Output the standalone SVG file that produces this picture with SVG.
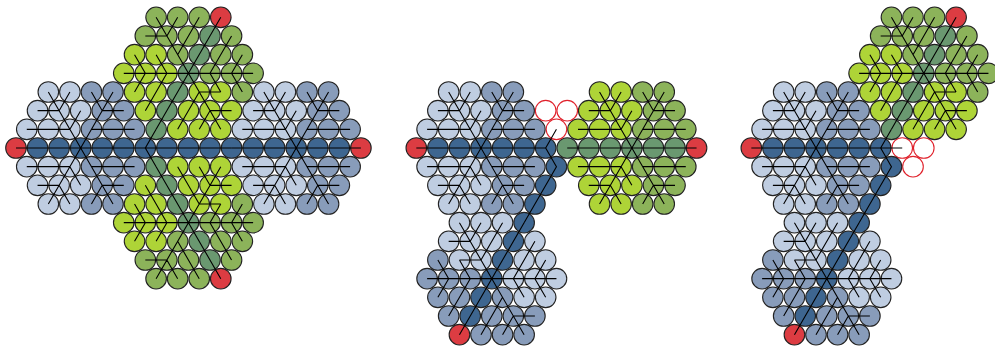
<svg xmlns="http://www.w3.org/2000/svg" width="995" height="350" viewBox="0 0 995 350">
<style>
circle{r:10.3px;stroke:#222;stroke-width:1.1}
.a{fill:var(--a)}.b{fill:var(--b)}.c{fill:var(--c)}
.r{fill:#dc3c42}
.h{fill:#fff;stroke:#e0222c}
.blue{--a:#bfcde1;--b:#889cba;--c:#3e6690}
.lime{--a:#aed437;--b:#8cb35a;--c:#6a9870}
#connectors{fill:none;stroke:#000;stroke-width:1.1}
</style>
<defs>
<g id="S">
<circle class="a" cx="-32.33" cy="-56" r="10.3"/><circle class="a" cx="-10.78" cy="-56" r="10.3"/><circle class="b" cx="10.78" cy="-56" r="10.3"/><circle class="b" cx="32.33" cy="-56" r="10.3"/>
<circle class="a" cx="-43.11" cy="-37.33" r="10.3"/><circle class="a" cx="-21.56" cy="-37.33" r="10.3"/><circle class="a" cx="0" cy="-37.33" r="10.3"/><circle class="b" cx="21.56" cy="-37.33" r="10.3"/><circle class="b" cx="43.11" cy="-37.33" r="10.3"/>
<circle class="a" cx="-53.89" cy="-18.67" r="10.3"/><circle class="a" cx="-32.33" cy="-18.67" r="10.3"/><circle class="a" cx="-10.78" cy="-18.67" r="10.3"/><circle class="b" cx="10.78" cy="-18.67" r="10.3"/><circle class="b" cx="32.33" cy="-18.67" r="10.3"/><circle class="b" cx="53.89" cy="-18.67" r="10.3"/>
<circle class="c" cx="-43.11" cy="0" r="10.3"/><circle class="c" cx="-21.56" cy="0" r="10.3"/><circle class="c" cx="0" cy="0" r="10.3"/><circle class="c" cx="21.56" cy="0" r="10.3"/><circle class="c" cx="43.11" cy="0" r="10.3"/>
<circle class="a" cx="-53.89" cy="18.67" r="10.3"/><circle class="a" cx="-32.33" cy="18.67" r="10.3"/><circle class="a" cx="-10.78" cy="18.67" r="10.3"/><circle class="b" cx="10.78" cy="18.67" r="10.3"/><circle class="b" cx="32.33" cy="18.67" r="10.3"/><circle class="b" cx="53.89" cy="18.67" r="10.3"/>
<circle class="a" cx="-43.11" cy="37.33" r="10.3"/><circle class="a" cx="-21.56" cy="37.33" r="10.3"/><circle class="a" cx="0" cy="37.33" r="10.3"/><circle class="b" cx="21.56" cy="37.33" r="10.3"/><circle class="b" cx="43.11" cy="37.33" r="10.3"/>
<circle class="a" cx="-32.33" cy="56" r="10.3"/><circle class="a" cx="-10.78" cy="56" r="10.3"/><circle class="b" cx="10.78" cy="56" r="10.3"/><circle class="b" cx="32.33" cy="56" r="10.3"/>
</g>
<g id="T">
<circle class="b" cx="-32.33" cy="-56" r="10.3"/><circle class="b" cx="-10.78" cy="-56" r="10.3"/><circle class="b" cx="10.78" cy="-56" r="10.3"/><circle class="r" cx="32.33" cy="-56" r="10.3"/>
<circle class="b" cx="-43.11" cy="-37.33" r="10.3"/><circle class="b" cx="-21.56" cy="-37.33" r="10.3"/><circle class="b" cx="0" cy="-37.33" r="10.3"/><circle class="c" cx="21.56" cy="-37.33" r="10.3"/><circle class="b" cx="43.11" cy="-37.33" r="10.3"/>
<circle class="a" cx="-53.89" cy="-18.67" r="10.3"/><circle class="a" cx="-32.33" cy="-18.67" r="10.3"/><circle class="b" cx="-10.78" cy="-18.67" r="10.3"/><circle class="c" cx="10.78" cy="-18.67" r="10.3"/><circle class="b" cx="32.33" cy="-18.67" r="10.3"/><circle class="b" cx="53.89" cy="-18.67" r="10.3"/>
<circle class="a" cx="-64.67" cy="0" r="10.3"/><circle class="a" cx="-43.11" cy="0" r="10.3"/><circle class="a" cx="-21.56" cy="0" r="10.3"/><circle class="c" cx="0" cy="0" r="10.3"/><circle class="b" cx="21.56" cy="0" r="10.3"/><circle class="b" cx="43.11" cy="0" r="10.3"/><circle class="b" cx="64.67" cy="0" r="10.3"/>
<circle class="a" cx="-53.89" cy="18.67" r="10.3"/><circle class="a" cx="-32.33" cy="18.67" r="10.3"/><circle class="c" cx="-10.78" cy="18.67" r="10.3"/><circle class="a" cx="10.78" cy="18.67" r="10.3"/><circle class="a" cx="32.33" cy="18.67" r="10.3"/><circle class="b" cx="53.89" cy="18.67" r="10.3"/>
<circle class="a" cx="-43.11" cy="37.33" r="10.3"/><circle class="c" cx="-21.56" cy="37.33" r="10.3"/><circle class="a" cx="0" cy="37.33" r="10.3"/><circle class="a" cx="21.56" cy="37.33" r="10.3"/><circle class="a" cx="43.11" cy="37.33" r="10.3"/>
<circle class="c" cx="-32.33" cy="56" r="10.3"/><circle class="a" cx="-10.78" cy="56" r="10.3"/><circle class="a" cx="10.78" cy="56" r="10.3"/><circle class="a" cx="32.33" cy="56" r="10.3"/>
</g>
<path id="SL" d="M-64.67 0H64.67M-32.33 -56L32.33 56M32.33 -56L-32.33 56M-53.89 -18.67H-10.78M10.78 -18.67H53.89M-53.89 18.67H-10.78M10.78 18.67H53.89M-43.11 -37.33H-21.56M21.56 -37.33H43.11M-43.11 37.33H-21.56M21.56 37.33H43.11M-10.78 -56L-21.56 -37.33M10.78 -56L21.56 -37.33M-10.78 56L-21.56 37.33M10.78 56L21.56 37.33M0 -37.33L-10.78 -18.67M0 37.33L-10.78 18.67"/>
<path id="TL" d="M-64.67 0H64.67M-32.33 -56L32.33 56M32.33 -56L-32.33 56M-53.89 -18.67L-43.11 0L-53.89 18.67M53.89 -18.67L43.11 0L53.89 18.67M-32.33 -18.67L-21.56 0L-43.11 37.33M43.11 -37.33L21.56 0L32.33 18.67M-43.11 -37.33H-21.56M-10.78 -56L-21.56 -37.33M10.78 -56L-10.78 -18.67M10.78 18.67H32.33M21.56 37.33H43.11M10.78 56L21.56 37.33M10.78 18.67L-10.78 56"/>
</defs>

<g id="figure1" class="blue">
<g id="f1-left"><use href="#S" x="80.67" y="148"/></g>
<g id="f1-right"><use href="#S" x="296.22" y="148"/></g>
<g id="f1-spine">
<circle class="r" cx="16" cy="148" r="10.3"/>
<circle class="c" cx="145.33" cy="148" r="10.3"/><circle class="c" cx="166.89" cy="148" r="10.3"/><circle class="c" cx="188.44" cy="148" r="10.3"/><circle class="c" cx="210" cy="148" r="10.3"/><circle class="c" cx="231.56" cy="148" r="10.3"/>
<circle class="r" cx="360.89" cy="148" r="10.3"/>
</g>
<g id="f1-top" class="lime"><use href="#T" transform="translate(188.44 73.33)"/></g>
<g id="f1-bottom" class="lime"><use href="#T" transform="translate(188.44 222.67) scale(1 -1)"/></g>
</g>

<g id="figure2" class="blue">
<g id="f2-left"><use href="#S" x="481" y="148"/></g>
<g id="f2-right" class="lime"><use href="#S" x="631.89" y="148"/>
<circle class="c" cx="567.22" cy="148" r="10.3"/>
<circle class="r" cx="696.56" cy="148" r="10.3"/></g>
<g id="f2-spine">
<circle class="r" cx="416.33" cy="148" r="10.3"/>
<circle class="c" cx="545.67" cy="148" r="10.3"/><circle class="c" cx="556.44" cy="166.67" r="10.3"/><circle class="c" cx="545.67" cy="185.33" r="10.3"/><circle class="c" cx="534.89" cy="204" r="10.3"/>
</g>
<g id="f2-bottom"><use href="#T" transform="translate(491.78 278.67) rotate(180)"/></g>
<g id="f2-holes"><circle class="h" cx="545.67" cy="110.67" r="10.3"/><circle class="h" cx="567.22" cy="110.67" r="10.3"/><circle class="h" cx="556.44" cy="129.33" r="10.3"/></g>
</g>

<g id="figure3" class="blue">
<g id="f3-holes"><circle class="h" cx="902.22" cy="148" r="10.3"/><circle class="h" cx="923.78" cy="148" r="10.3"/><circle class="h" cx="913" cy="166.67" r="10.3"/></g>
<g id="f3-left"><use href="#S" x="816" y="148"/></g>
<g id="f3-spine">
<circle class="r" cx="751.33" cy="148" r="10.3"/>
<circle class="c" cx="880.67" cy="148" r="10.3"/><circle class="c" cx="891.44" cy="166.67" r="10.3"/><circle class="c" cx="880.67" cy="185.33" r="10.3"/><circle class="c" cx="869.89" cy="204" r="10.3"/>
</g>
<g id="f3-top" class="lime"><use href="#T" transform="translate(923.78 73.33)"/></g>
<g id="f3-bottom"><use href="#T" transform="translate(826.78 278.67) rotate(180)"/></g>
</g>

<g id="connectors">
<use href="#SL" x="80.67" y="148"/><use href="#SL" x="296.22" y="148"/>
<use href="#TL" transform="translate(188.44 73.33)"/><use href="#TL" transform="translate(188.44 222.67) scale(1 -1)"/>
<path d="M145.33 148H231.56M156.11 129.33L145.33 148L156.11 166.67"/>
<use href="#SL" x="481" y="148"/><use href="#SL" x="631.89" y="148"/>
<use href="#TL" transform="translate(491.78 278.67) rotate(180)"/>
<path d="M556.44 129.33L545.67 148L556.44 166.67L524.11 222.67"/>
<use href="#SL" x="816" y="148"/>
<use href="#TL" transform="translate(923.78 73.33)"/><use href="#TL" transform="translate(826.78 278.67) rotate(180)"/>
<path d="M880.67 148H902.22M891.44 129.33L880.67 148L891.44 166.67L859.11 222.67"/>
</g>
</svg>
